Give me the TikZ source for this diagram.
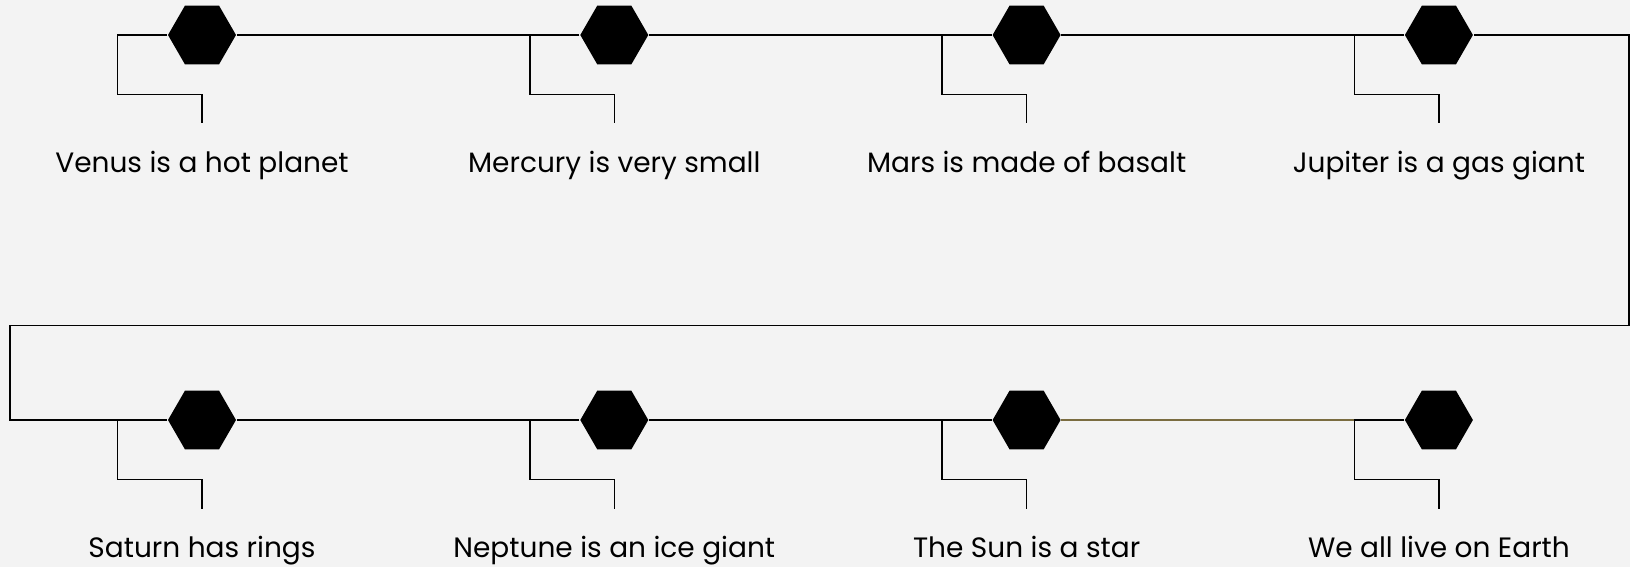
\documentclass[tikz,border=0pt]{standalone}
\usepackage{fontspec}
\setmainfont{Poppins}
\usetikzlibrary{shapes.geometric, positioning}
\definecolor{paper}{RGB}{243,243,243}
\definecolor{oliveline}{RGB}{122,108,64}
\tikzstyle{every picture} = [node distance=412.3pt]
\tikzstyle{hexa} = [regular polygon, regular polygon sides=6, minimum size=68pt, inner sep=0pt, fill=black]
\tikzstyle{caption} = [anchor=base, inner sep=0pt, font=\fontsize{28}{32}\selectfont]

\begin{document}
\begin{tikzpicture} [x=1pt, y=-1pt, line width=1.5pt]
            \fill[paper] (0,0) rectangle (1630,567);
            \useasboundingbox (0,0) rectangle (1630,567);

            \node (hex 1) [hexa] at (202,35) {};
            \node (hex 2) [hexa, right of=hex 1] {};
            \node (hex 3) [hexa, right of=hex 2] {};
            \node (hex 4) [hexa, right of=hex 3] {};
            \node (hex 5) [hexa, below of=hex 1, node distance=385pt] {};
            \node (hex 6) [hexa, right of=hex 5] {};
            \node (hex 7) [hexa, right of=hex 6] {};
            \node (hex 8) [hexa, right of=hex 7] {};

            % corners of the return line
            \coordinate (corner a) at (1629,35);
            \coordinate (corner b) at (1629,325.5);
            \coordinate (corner c) at (10,325.5);
            \coordinate (corner d) at (10,420);

            \draw (hex 1) -- (hex 2) -- (hex 3) -- (hex 4) -- (corner a) -- (corner b)
                  -- (corner c) -- (corner d) -- (hex 5) -- (hex 6) -- (hex 7);
            \draw[oliveline] (hex 7) -- (hex 8);

            % brackets down to the captions
            \coordinate (tip 1) at ([yshift=-88.5pt]hex 1.center);
            \coordinate (tip 2) at ([yshift=-88.5pt]hex 2.center);
            \coordinate (tip 3) at ([yshift=-88.5pt]hex 3.center);
            \coordinate (tip 4) at ([yshift=-88.5pt]hex 4.center);
            \coordinate (tip 5) at ([yshift=-88.5pt]hex 5.center);
            \coordinate (tip 6) at ([yshift=-88.5pt]hex 6.center);
            \coordinate (tip 7) at ([yshift=-88.5pt]hex 7.center);
            \coordinate (tip 8) at ([yshift=-88.5pt]hex 8.center);
            \draw (hex 1.west) -| ([xshift=-84.5pt,yshift=29pt]tip 1) -- ([yshift=29pt]tip 1) -- (tip 1);
            \draw (hex 2.west) -| ([xshift=-84.5pt,yshift=29pt]tip 2) -- ([yshift=29pt]tip 2) -- (tip 2);
            \draw (hex 3.west) -| ([xshift=-84.5pt,yshift=29pt]tip 3) -- ([yshift=29pt]tip 3) -- (tip 3);
            \draw (hex 4.west) -| ([xshift=-84.5pt,yshift=29pt]tip 4) -- ([yshift=29pt]tip 4) -- (tip 4);
            \draw (hex 5.west) -| ([xshift=-84.5pt,yshift=29pt]tip 5) -- ([yshift=29pt]tip 5) -- (tip 5);
            \draw (hex 6.west) -| ([xshift=-84.5pt,yshift=29pt]tip 6) -- ([yshift=29pt]tip 6) -- (tip 6);
            \draw (hex 7.west) -| ([xshift=-84.5pt,yshift=29pt]tip 7) -- ([yshift=29pt]tip 7) -- (tip 7);
            \draw (hex 8.west) -| ([xshift=-84.5pt,yshift=29pt]tip 8) -- ([yshift=29pt]tip 8) -- (tip 8);

            \node (caption 1) [caption] at ([yshift=-49pt]tip 1) {Venus is a hot planet};
            \node (caption 2) [caption] at ([yshift=-49pt]tip 2) {Mercury is very small};
            \node (caption 3) [caption] at ([yshift=-49pt]tip 3) {Mars is made of basalt};
            \node (caption 4) [caption] at ([yshift=-49pt]tip 4) {Jupiter is a gas giant};
            \node (caption 5) [caption] at ([yshift=-49pt]tip 5) {Saturn has rings};
            \node (caption 6) [caption] at ([yshift=-49pt]tip 6) {Neptune is an ice giant};
            \node (caption 7) [caption] at ([yshift=-49pt]tip 7) {The Sun is a star};
            \node (caption 8) [caption] at ([yshift=-49pt]tip 8) {We all live on Earth};
        \end{tikzpicture}
\end{document}
